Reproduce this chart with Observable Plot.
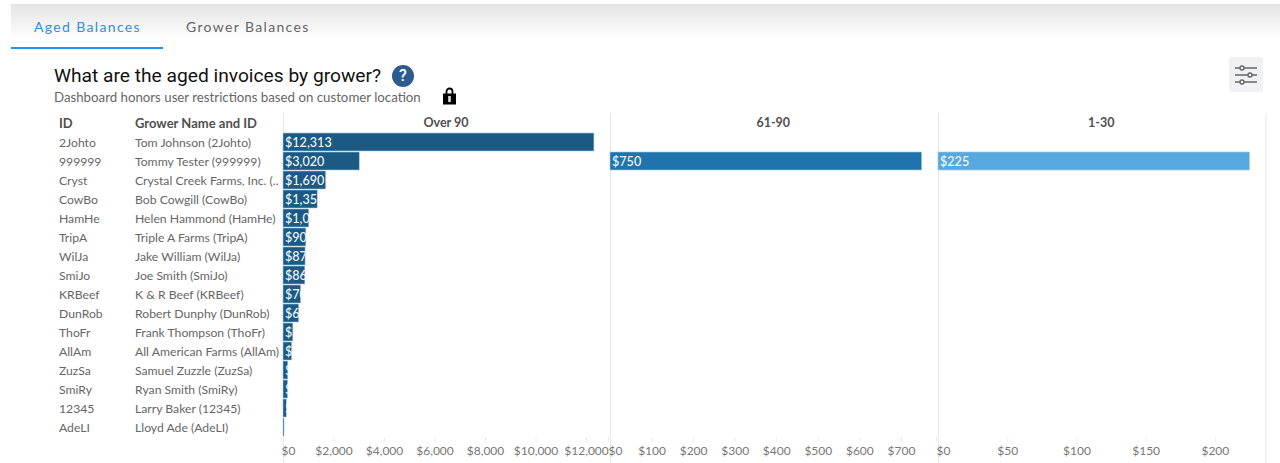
<!DOCTYPE html>
<html><head><meta charset="utf-8">
<script src="https://cdn.jsdelivr.net/npm/d3@7"></script>
<script src="https://cdn.jsdelivr.net/npm/@observablehq/plot@0.6"></script>
<style>
html,body{margin:0;padding:0;background:#fff;width:1280px;height:463px;overflow:hidden;font-family:Lato,sans-serif}
#head{position:relative;height:113px;width:1280px}
#fade{position:absolute;left:11px;right:0;top:4px;height:44px;background:linear-gradient(#e4e4e4,#fff 80%)}
.tab{position:absolute;top:18px;font:14px Lato,sans-serif;letter-spacing:1.35px}
#t1{left:34px;color:#2f8fe0}
#t2{left:186px;color:#666}
#line{position:absolute;left:11px;top:47px;width:152px;height:2px;background:#2196f3}
#title{position:absolute;left:54px;top:64px;font:19.2px Roboto,sans-serif;color:#111;white-space:nowrap}
#sub{position:absolute;left:54px;top:88.5px;font:13.25px Lato,sans-serif;color:#666;white-space:nowrap}
#help{position:absolute;left:392px;top:65px;width:22px;height:22px;border-radius:50%;background:#2c5c8f;color:#fff;font:500 16px/22px Roboto,sans-serif;text-align:center}
#lock{position:absolute;left:442px;top:87px}
#filter{position:absolute;left:1229px;top:57px;width:34px;height:35px;border-radius:3px;background:#f0f1f4}
#row{display:flex;width:1280px;height:350px}
#row svg{display:block;flex:none}
</style></head><body>
<div id="head">
<div id="fade"></div>
<div class="tab" id="t1">Aged Balances</div><div class="tab" id="t2">Grower Balances</div><div id="line"></div>
<div id="title">What are the aged invoices by grower?</div>
<div id="help">?</div>
<div id="sub">Dashboard honors user restrictions based on customer location</div>
<svg id="lock" width="15" height="18" viewBox="0 0 15 18"><path d="M4.5 8V4.5a3 3 0 0 1 6 0V8" fill="none" stroke="#000" stroke-width="1.8"/><rect x="1" y="6.5" width="13" height="11" fill="#000"/><rect x="6.2" y="9" width="2.6" height="6" fill="#ddd"/></svg>
<svg id="filter" viewBox="0 0 34 35"><g stroke="#666" stroke-width="1.4" fill="#f0f1f4"><path d="M6 11H28M6 18H28M6 25H28"/><circle cx="13" cy="11" r="2"/><circle cx="21" cy="18" r="2"/><circle cx="13" cy="25" r="2"/></g></svg>
</div>
<div id="row"></div>
<script>
const ids = ["2Johto","999999","Cryst","CowBo","HamHe","TripA","WilJa","SmiJo","KRBeef","DunRob","ThoFr","AllAm","ZuzSa","SmiRy","12345","AdeLI"];
const names = ["Tom Johnson (2Johto)","Tommy Tester (999999)","Crystal Creek Farms, Inc. (..","Bob Cowgill (CowBo)","Helen Hammond (HamHe)","Triple A Farms (TripA)","Jake William (WilJa)","Joe Smith (SmiJo)","K & R Beef (KRBeef)","Robert Dunphy (DunRob)","Frank Thompson (ThoFr)","All American Farms (AllAm)","Samuel Zuzzle (ZuzSa)","Ryan Smith (SmiRy)","Larry Baker (12345)","Lloyd Ade (AdeLI)"];
const over90 = [12313,3020,1690,1355,1020,905,875,865,700,620,390,340,190,180,130,40];
const d61to90 = [null,750];
const d1to30 = [null,225];
const panels = ["Over 90","61-90","1-30"];
const colors = ["#1a5a85","#1f74ad","#58a8e0"];
const ticks90 = [0,2000,4000,6000,8000,10000,12000];
const ticks61 = [0,100,200,300,400,500,600,700];
const ticks1 = [0,50,100,150,200];
const domains = [12950,788,236.6];

const money = d3.format("$,d");
const textColor = "#666";
const font = "Lato, sans-serif";
let clipN = 0;

function panel(i, values, ticks, opts){
  const rows = ids.map((id,k)=>({id,name:names[k],v:values[k]??null,p:panels[i]})).filter(d=>d.v!=null);
  const all = ids.map((id,k)=>({id,name:names[k]}));
  const extra = opts.extra ? opts.extra(all) : [];
  return Plot.plot({
    width:opts.width,height:350,marginTop:20,marginBottom:26,marginLeft:opts.left,marginRight:opts.right,
    style:{background:"transparent",fontFamily:font,fontSize:"12px",overflow:"visible"},
    x:{domain:[0,domains[i]],axis:null},
    y:{domain:ids,axis:null,paddingInner:0.04,paddingOuter:0.02},
    color:{domain:panels,range:colors},
    marks:[
      Plot.ruleX([0],{stroke:"#e6e6e6",insetTop:-20,insetBottom:-26}),
      ...(opts.last?[Plot.ruleX([domains[i]],{stroke:"#e6e6e6",insetTop:-20,insetBottom:-26})]:[]),
      Plot.barX(rows,{x:"v",y:"id",fill:"p",stroke:"#a9c8de",strokeWidth:0.6}),
      Plot.text(rows,{x:0,y:"id",text:d=>money(d.v),textAnchor:"start",dx:1.5,dy:0.5,fill:"#f2f7fb",fontSize:12.6,fontWeight:500,
        render(index,scales,values,dims,ctx,next){
          const g = next(index,scales,values,dims,ctx);
          const svg = d3.select(g);
          const defs = svg.append("defs");
          svg.selectAll("text").each(function(_,j){
            const d = rows[index[j]];
            const cid = "barclip"+(++clipN);
            defs.append("clipPath").attr("id",cid).append("rect")
              .attr("x",scales.x(0)).attr("width",scales.x(d.v)-scales.x(0))
              .attr("y",-1000).attr("height",3000);
            svg.append("g").attr("clip-path",`url(#${cid})`).node().appendChild(this);
          });
          return g;
        }}),
      Plot.text([panels[i]],{frameAnchor:"top",dx:-1,dy:-15,fontWeight:"bold",fill:"#505050",fontSize:12.5}),
      Plot.axisX({ticks:ticks.filter(t=>t!==0),tickFormat:money,label:null,anchor:"bottom",tickSize:5,tickPadding:4,stroke:"#ececec",fill:"#777",fontSize:12}),
      Plot.axisX({ticks:[0],tickFormat:money,label:null,anchor:"bottom",tickSize:5,tickPadding:4,textAnchor:"start",dx:-2,stroke:"#ececec",fill:"#777",fontSize:12}),
      ...extra
    ]
  });
}

const rowEl = document.getElementById("row");
rowEl.append(panel(0,over90,ticks90,{width:610,left:283,right:0,extra:all=>[
  Plot.text(all,{frameAnchor:"left",y:"id",text:"id",dx:-224.5,dy:0.5,textAnchor:"start",fill:textColor,fontSize:12.2}),
  Plot.text(all,{frameAnchor:"left",y:"id",text:"name",dx:-148.5,dy:0.5,textAnchor:"start",fill:textColor,fontSize:12.2}),
  Plot.text(["ID"],{frameAnchor:"top-left",dx:-224.5,dy:-15,textAnchor:"start",fontWeight:"bold",fill:"#505050",fontSize:13}),
  Plot.text(["Grower Name and ID"],{frameAnchor:"top-left",dx:-148.5,dy:-15,textAnchor:"start",fontWeight:"bold",fill:"#505050",fontSize:13})
]}));
rowEl.append(panel(1,d61to90,ticks61,{width:327.5,left:0,right:0}));
rowEl.append(panel(2,d1to30,ticks1,{width:342.5,left:0,right:15,last:true}));
</script>
</body></html>
